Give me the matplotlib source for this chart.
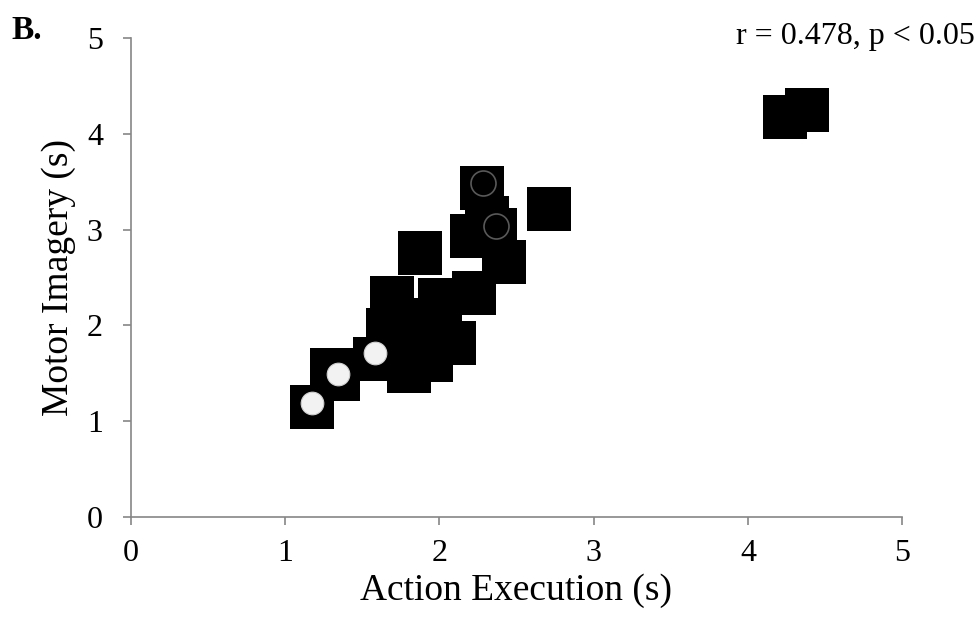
import matplotlib
matplotlib.use('Agg')
import matplotlib.pyplot as plt

# all participants (black squares)
exec_sq = [1.175, 1.305, 1.344, 1.581, 1.668, 1.693, 2.005, 2.225, 2.093, 1.946, 1.804,
           1.875, 1.745, 1.875, 2.212, 2.309, 2.361, 2.420, 2.277, 2.711, 4.239, 4.383]
imag_sq = [1.148, 1.534, 1.441, 1.652, 1.952, 2.286, 2.265, 2.338, 1.816, 1.639, 1.524,
           2.056, 1.795, 2.756, 2.933, 3.121, 2.996, 2.662, 3.439, 3.210, 4.178, 4.248]

# filled light circles
exec_ci = [1.177, 1.342, 1.583]
imag_ci = [1.193, 1.490, 1.709]

# open circles
exec_op = [2.282, 2.369]
imag_op = [3.483, 3.038]

ticks = [0, 1, 2, 3, 4, 5]

plt.rcParams['font.family'] = ['Liberation Serif', 'DejaVu Serif']

fig = plt.figure(figsize=(9.78, 6.25), dpi=100)
ax = fig.add_axes([0.1336, 0.1728, 0.789, 0.7664])

ax.plot(exec_sq, imag_sq, 's', ms=31.7, color='black', mew=0, zorder=3)
ax.plot(exec_ci, imag_ci, 'o', ms=16.3, mfc='#f2f2f2', mec='#d0d0d0', mew=0.8, zorder=4)
ax.plot(exec_op, imag_op, 'o', ms=18, mfc='none', mec='#595959', mew=1.2, zorder=5)

ax.set_xlim(0, 5)
ax.set_ylim(0, 5)
ax.set_xticks(ticks)
ax.set_yticks(ticks)

for s in ['top', 'right']:
    ax.spines[s].set_visible(False)
for s in ['left', 'bottom']:
    ax.spines[s].set_color('#868686')
    ax.spines[s].set_linewidth(1.2)
ax.tick_params(direction='out', length=6, width=1.2, color='#868686',
               labelsize=23, pad=10)
ax.tick_params(axis='y', pad=14)

ax.set_xlabel('Action Execution (s)', fontsize=27, labelpad=4)
ax.set_ylabel('Motor Imagery (s)', fontsize=27, labelpad=8)

fig.text(0.012, 0.937, 'B.', fontsize=24, fontweight='bold', va='baseline')
fig.text(0.997, 0.93, 'r = 0.478, p < 0.05', fontsize=23, ha='right')

fig.savefig('out.png', dpi=100)
